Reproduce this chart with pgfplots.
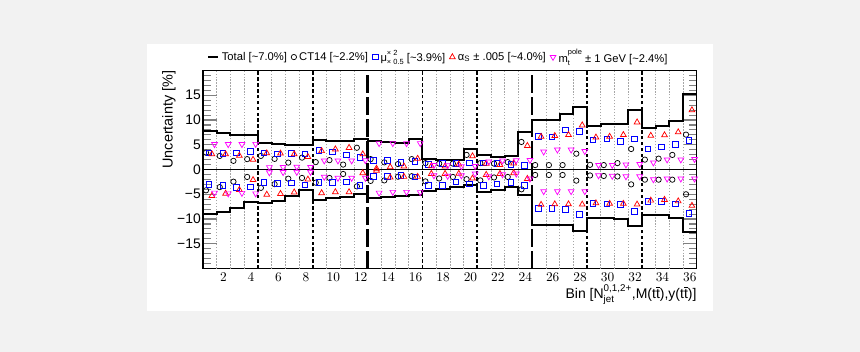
\documentclass[border=0pt]{standalone}
\usepackage{fontspec}
\setmainfont{Liberation Sans}
\usepackage{amsmath}
\usepackage{pgfplots}
\usepackage{pgfplotstable}
\pgfplotsset{compat=1.18}
\definecolor{bgout}{RGB}{242,242,242}
\definecolor{mblue}{RGB}{0,0,255}
\definecolor{mred}{RGB}{255,0,0}
\definecolor{mmag}{RGB}{255,0,255}
\newcommand{\tbar}{\ensuremath{\overline{\text{t}}}}
\newcommand{\stk}[2]{\raisebox{-2pt}{\fontsize{5.6pt}{5.6pt}\selectfont\shortstack[l]{#1\\#2}}}

\pgfplotstableread{
bin cu cd su sd au ad mu md
1 3.4 -4.2 3.35 -3.05 3.1 -5.3 5.1 -4.7
2 2.75 -3.55 3.3 -3.25 3.1 -4.85 5.1 -4.85
3 1.75 -2.45 3.4 -3.55 2.8 -4.1 5.1 -4.75
4 2.1 -1.5 3.7 -3.5 2.0 -2.1 5.15 -4.85
5 2.75 -3.7 3.35 -2.6 3.3 -5.05 0.45 -0.6
6 2.15 -2.95 3.2 -2.75 3.25 -4.9 0.5 -0.55
7 1.4 -1.85 3.3 -2.7 3.1 -4.6 0.55 -0.5
8 2.4 -1.7 3.2 -3.1 2.55 -2.0 0.5 -0.5
9 1.5 -2.65 3.9 -2.65 3.75 -4.75 1.8 -1.5
10 1.9 -1.7 3.55 -2.65 4.1 -4.55 1.8 -1.7
11 1.0 -0.9 3.0 -2.5 4.4 -4.55 1.8 -1.7
12 4.4 -3.4 2.5 -3.2 3.1 -0.7 1.85 -1.7
13 2.1 -2.3 1.9 -1.4 0.2 -0.2 5.3 -4.7
14 1.45 -2.2 1.8 -1.4 0.5 -1.6 5.3 -4.55
15 1.1 -1.45 1.5 -1.2 0.65 -1.45 5.3 -4.55
16 2.1 -1.35 1.65 -1.45 2.2 -1.45 5.3 -4.6
17 1.3 -2.4 1.1 -3.2 0.7 -0.85 0.9 -1.2
18 1.2 -1.8 1.2 -3.2 0.65 -0.85 0.85 -1.3
19 1.2 -1.5 1.3 -2.5 1.05 -0.84 0.65 -1.2
20 2.95 -1.95 1.35 -2.9 2.7 -1.8 0.7 -0.85
21 1.3 -2.2 1.35 -3.2 1.2 -1.05 1.6 -1.4
22 1.2 -1.6 1.2 -2.9 0.95 -0.85 1.8 -1.0
23 1.5 -1.5 1.1 -2.65 1.25 -0.7 1.86 -0.85
24 5.57 -4.0 0.9 -3.2 4.8 -1.86 1.9 -1.86
25 0.9 -1.1 6.65 -7.8 6.65 -7.1 3.6 -4.4
26 0.9 -1.1 6.6 -7.9 6.8 -7.0 4.0 -4.4
27 0.9 -1.1 8.0 -8.0 7.0 -7.0 4.0 -4.4
28 3.2 -2.25 7.7 -9.0 8.95 -7.05 3.7 -4.4
29 0.95 -1.2 6.0 -6.8 6.5 -6.8 0.9 -1.2
30 0.9 -1.3 6.2 -6.9 6.65 -6.9 0.9 -1.3
31 1.3 -1.4 5.7 -7.05 7.0 -6.9 1.0 -1.4
32 4.15 -3.0 6.2 -8.4 9.55 -7.05 1.1 -1.4
33 2.0 -2.05 4.15 -6.4 6.85 -6.25 1.4 -2.0
34 2.2 -2.05 4.6 -6.4 6.95 -6.1 2.0 -1.85
35 2.95 -2.05 5.1 -6.9 7.55 -6.4 2.0 -1.85
36 7.05 -5.0 5.85 -8.8 12.0 -7.3 2.1 -1.85
}\data

\pgfplotstableread{
x up dn
0.5 7.8 -8.9
1.5 7.4 -8.5
2.5 7.0 -7.8
3.5 7.0 -6.5
4.5 5.4 -6.85
5.5 5.2 -6.3
6.5 4.9 -5.4
7.5 4.9 -4.1
8.5 5.9 -6.1
9.5 5.7 -5.85
10.5 5.7 -5.45
11.5 6.1 -5.0
12.5 5.8 -5.75
13.5 5.6 -5.5
14.5 5.45 -5.3
15.5 6.25 -5.2
16.5 2.2 -4.3
17.5 1.95 -4.0
18.5 1.95 -3.45
19.5 4.2 -3.05
20.5 2.9 -4.55
21.5 2.6 -4.1
22.5 2.7 -3.6
23.5 7.5 -5.05
24.5 10.0 -11.3
25.5 10.0 -11.3
26.5 11.3 -11.3
27.5 12.7 -12.5
28.5 8.8 -9.75
29.5 9.1 -9.75
30.5 9.2 -9.95
31.5 12.1 -11.4
32.5 8.4 -9.2
33.5 8.75 -9.2
34.5 9.85 -9.7
35.5 15.2 -12.7
36.5 15.2 -12.7
}\tot

\begin{document}
\begin{tikzpicture}
\fill[bgout] (0pt,0pt) rectangle (645pt,264pt);
\fill[white] (110.25pt,30.4pt) rectangle (534.75pt,231pt);
\begin{axis}[
  at={(152.25pt,62.6pt)}, anchor=south west,
  scale only axis, width=370.3pt, height=148.5pt,
  xmin=0.5, xmax=36.5, ymin=-20, ymax=20,
  axis line style={line width=1.1pt},
  xtick={2,4,...,36},
  xtick style={draw=none},
  ytick={-20,-15,...,20},
  yticklabels={{},−15,−10,−5,0,5,10,15,{}},
  minor y tick num=4,
  tick align=inside,
  major tick length=10.5pt, minor tick length=6pt,
  ytick style={line width=0.8pt},
  minor tick style={line width=0.6pt},
  ticklabel style={font=\fontsize{10.4pt}{12pt}\selectfont},
  yticklabel style={inner xsep=0pt, xshift=-1.5pt},
  ylabel={Uncertainty [\%]},
  ylabel style={at={(axis description cs:-0.0547,1)}, anchor=south east, inner sep=0pt, font=\fontsize{10.8pt}{12pt}\selectfont},
  xlabel={Bin [N$^{\text{0,1,2+}}_{\text{jet}}$,M(t\tbar),y(t\tbar)]},
  xlabel style={at={(axis description cs:1,-0.149)}, anchor=base east, inner sep=0pt, font=\fontsize{10.5pt}{12pt}\selectfont},
  legend columns=5,
  legend style={at={(axis description cs:0.008,1.068)}, anchor=west, draw=none, fill=none,
    font=\fontsize{8.4pt}{10pt}\selectfont, inner sep=0pt,
    /tikz/every even column/.append style={column sep=1.2pt}},
  legend cell align=left,
]
% bin separators
\pgfplotsinvokeforeach{1.5,2.5,3.5,5.5,6.5,7.5,9.5,10.5,11.5,13.5,14.5,15.5,17.5,18.5,19.5,21.5,22.5,23.5,25.5,26.5,27.5,29.5,30.5,31.5,33.5,34.5,35.5}{
  \addplot[forget plot, gray!70, line width=0.5pt, dash pattern=on 1pt off 1.2pt] coordinates {(#1,-20) (#1,20)};
}
\pgfplotsinvokeforeach{4.5,8.5,16.5,20.5,28.5,32.5}{
  \addplot[forget plot, black, line width=1.3pt, dash pattern=on 2.6pt off 1.8pt] coordinates {(#1,-20) (#1,20)};
}
\pgfplotsinvokeforeach{12.5,24.5}{
  \addplot[forget plot, black, line width=2pt, dash pattern=on 13pt off 3.5pt] coordinates {(#1,-20) (#1,20)};
}
\addplot[forget plot, black, line width=0.6pt] coordinates {(0.5,0) (36.5,0)};

% total
\addplot[black, line width=1.5pt, const plot, mark=none,
  legend image code/.code={\draw[black, line width=1.5pt] (0pt,0pt) -- (7.5pt,0pt);}]
  table[x=x, y=up]{\tot};
\addlegendentry{Total [\textasciitilde 7.0\%]}
\addplot[forget plot, black, line width=1.5pt, const plot, mark=none] table[x=x, y=dn]{\tot};

\pgfplotsset{mylegimg/.style={legend image code/.code={\draw[mark repeat=2, mark phase=2, ##1] plot coordinates {(0pt,0pt) (2.8pt,0pt) (5.6pt,0pt)};}}}

% CT14
\addplot[only marks, mark=o, mark size=2pt, black, mark options={line width=0.55pt}, mylegimg]
  table[x expr=\thisrow{bin}-0.28, y=cu]{\data};
\addlegendentry{CT14 [\textasciitilde 2.2\%]}
\addplot[forget plot, only marks, mark=o, mark size=2pt, black, mark options={line width=0.55pt}]
  table[x expr=\thisrow{bin}-0.28, y=cd]{\data};

% mu
\addplot[only marks, mark=square, mark size=2.1pt, mblue, mark options={line width=0.55pt}, mylegimg]
  table[x expr=\thisrow{bin}-0.06, y=su]{\data};
\addlegendentry{μ\stk{× 2}{× 0.5} [\textasciitilde 3.9\%]}
\addplot[forget plot, only marks, mark=square, mark size=2.1pt, mblue, mark options={line width=0.55pt}]
  table[x expr=\thisrow{bin}-0.06, y=sd]{\data};

% alpha_s
\addplot[only marks, mark=triangle, mark size=2.5pt, mred, mark options={line width=0.55pt}, mylegimg]
  table[x expr=\thisrow{bin}+0.15, y=au]{\data};
\addlegendentry{α$_{\text{S}}$ ± .005 [\textasciitilde 4.0\%]}
\addplot[forget plot, only marks, mark=triangle, mark size=2.5pt, mred, mark options={line width=0.55pt}]
  table[x expr=\thisrow{bin}+0.15, y=ad]{\data};

% mt
\addplot[only marks, mark=triangle, mark size=2.5pt, mmag, mark options={line width=0.55pt, rotate=180}, mylegimg]
  table[x expr=\thisrow{bin}+0.34, y=mu]{\data};
\addlegendentry{m\stk{pole}{t} ± 1 GeV [\textasciitilde 2.4\%]}
\addplot[forget plot, only marks, mark=triangle, mark size=2.5pt, mmag, mark options={line width=0.55pt, rotate=180}]
  table[x expr=\thisrow{bin}+0.34, y=md]{\data};
\end{axis}
\pgfresetboundingbox
\path[use as bounding box] (0pt,0pt) rectangle (645pt,264pt);
\end{tikzpicture}
\end{document}
